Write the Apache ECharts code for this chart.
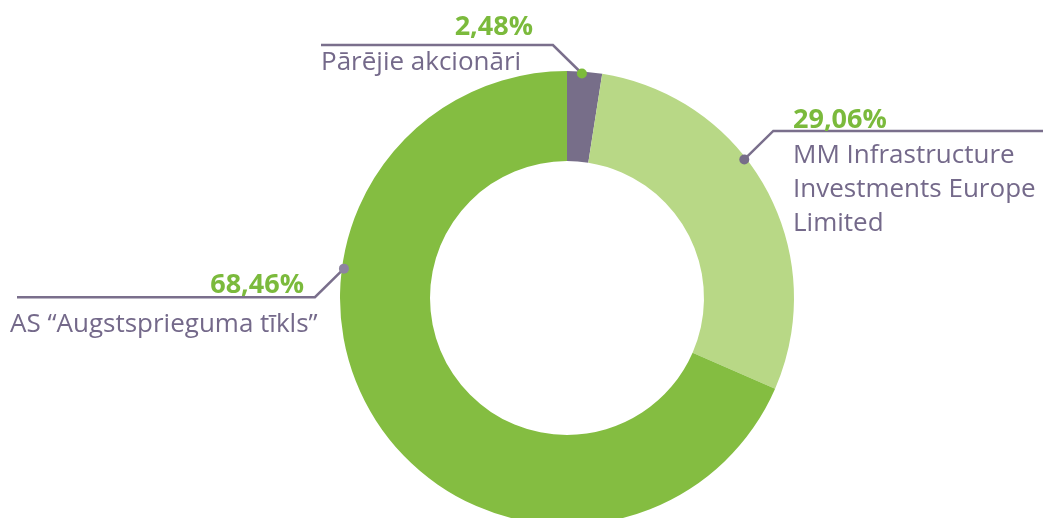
<!DOCTYPE html>
<html>
<head>
<meta charset="utf-8">
<title>Akcionāru struktūra</title>
<script src="https://cdn.jsdelivr.net/npm/echarts@6/dist/echarts.min.js"></script>
<style>
html, body { margin: 0; padding: 0; background: #fff; }
#main { width: 1043px; height: 518px; }
</style>
</head>
<body>
<div id="main"></div>
<script>
// shareholders, clockwise from 12 o'clock
var names = ['Pārējie akcionāri', 'MM Infrastructure\nInvestments Europe\nLimited', 'AS “Augstsprieguma tīkls”'];
var shares = [2.48, 29.06, 68.46];
var colors = ['#776e89', '#b8d886', '#84bd41'];

var center = [567, 298];
var outerR = 227;

// label boxes + leader lines (layout only)
var dotAngle = [3.8, 52, 277.5];
var dotColor = ['#7cbb3a', '#776e89', '#8d84a0'];
var boxes = [
    { x: 321, y: 9,   w: 230, pAlign: 'right', pad: 18, pLH: 36, nLH: 36, dir: [-1, -1], end: 321 },
    { x: 793, y: 101, w: 250, pAlign: 'left',  pad: 0,  pLH: 38, nLH: 34, dir: [1, -1],  end: 1043 },
    { x: 10,  y: 265, w: 308, pAlign: 'right', pad: 14, pLH: 41, nLH: 38, dir: [-1, 1],  end: 17 }
];

var grey = '#74698a';
var green = '#7bba3c';
var font = '"Open Sans", "Noto Sans", sans-serif';

function dotPos(i) {
    var a = dotAngle[i] * Math.PI / 180;
    var r = outerR - 2;
    return [center[0] + r * Math.sin(a), center[1] - r * Math.cos(a)];
}

function fmt(v) {
    return v.toFixed(2).replace('.', ',') + '%';
}

var data = names.map(function (n, i) {
    var b = boxes[i];
    return {
        name: n,
        value: shares[i],
        itemStyle: { color: colors[i] },
        label: {
            width: b.w,
            rich: {
                p: { align: b.pAlign, padding: [0, b.pad, 0, 0], lineHeight: b.pLH,
                     fontFamily: font, fontSize: 27, fontWeight: 'bold', color: green },
                n: { align: 'left', lineHeight: b.nLH,
                     fontFamily: font, fontSize: 26, color: grey }
            }
        }
    };
});

var chart = echarts.init(document.getElementById('main'));

var option = {
    backgroundColor: '#fff',
    animation: false,
    graphic: dotAngle.map(function (a, i) {
        var d = dotPos(i);
        return { type: 'circle', z: 100, shape: { cx: d[0], cy: d[1], r: 5 }, style: { fill: dotColor[i] } };
    }),
    series: [{
        type: 'pie',
        center: center,
        radius: [137, outerR],
        startAngle: 90,
        avoidLabelOverlap: false,
        silent: true,
        minShowLabelAngle: 0,
        emphasis: { disabled: true },
        itemStyle: { borderWidth: 0 },
        label: {
            show: true,
            position: 'outside',
            formatter: function (p) {
                return '{p|' + fmt(p.value) + '}\n' +
                    p.name.split('\n').map(function (s) { return '{n|' + s + '}'; }).join('\n');
            }
        },
        labelLine: {
            show: true,
            smooth: false,
            lineStyle: { color: '#7a6f8c', width: 2.5 }
        },
        labelLayout: function (p) {
            var i = p.dataIndex, b = boxes[i], d = dotPos(i);
            var knee = [d[0] + b.dir[0] * 29, d[1] + b.dir[1] * 28.5];
            return {
                x: b.x, y: b.y, align: 'left', verticalAlign: 'top',
                labelLinePoints: [d, knee, [b.end, knee[1]]]
            };
        },
        data: data
    }]
};

chart.setOption(option);
</script>
</body>
</html>
